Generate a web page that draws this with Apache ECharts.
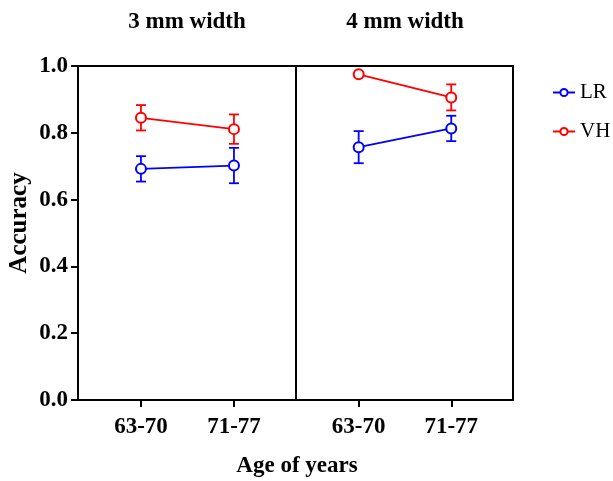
<!DOCTYPE html>
<html><head><meta charset="utf-8">
<script src="https://cdn.jsdelivr.net/npm/echarts@6/dist/echarts.min.js"></script>
<style>html,body{margin:0;padding:0;background:#fff}#c{width:613px;height:481px}</style>
</head><body><div id="c"></div>
<script>
const categories = ['63-70', '71-77'];
const panelTitles = ['3 mm width', '4 mm width'];
const lr3 = [0.692, 0.702];
const lr3Err = [0.038, 0.053];
const vh3 = [0.845, 0.811];
const vh3Err = [0.038, 0.044];
const lr4 = [0.757, 0.813];
const lr4Err = [0.048, 0.038];
const vh4 = [0.975, 0.906];
const vh4Err = [0.0, 0.039];

const FONT = '"Liberation Serif", "DejaVu Serif", serif';
const BLUE = '#0000ff', RED = '#ff0000';

const chart = echarts.init(document.getElementById('c'), null, {renderer: 'canvas'});

function pts(vals) { return vals.map((v, i) => [i, v]); }
function errPts(vals, errs) { return vals.map((v, i) => [i, v - errs[i], v + errs[i]]); }

function lineSeries(name, vals, color, idx) {
  return {
    name: name, type: 'line', xAxisIndex: idx, yAxisIndex: idx,
    data: pts(vals), symbol: 'emptyCircle', symbolSize: 10,
    lineStyle: {color: color, width: 1.8},
    itemStyle: {color: color, borderColor: color, borderWidth: 1.8},
    emphasis: {disabled: true}, z: 3
  };
}
function errSeries(name, vals, errs, color, idx) {
  return {
    name: name, type: 'custom', xAxisIndex: idx, yAxisIndex: idx,
    data: errPts(vals, errs),
    renderItem: function (params, api) {
      const lo = api.coord([api.value(0), api.value(1)]);
      const hi = api.coord([api.value(0), api.value(2)]);
      const w = 5;
      const st = {stroke: color, lineWidth: 1.8};
      return {type: 'group', children: [
        {type: 'line', shape: {x1: lo[0], y1: lo[1], x2: hi[0], y2: hi[1]}, style: st},
        {type: 'line', shape: {x1: lo[0] - w, y1: lo[1], x2: lo[0] + w, y2: lo[1]}, style: st},
        {type: 'line', shape: {x1: hi[0] - w, y1: hi[1], x2: hi[0] + w, y2: hi[1]}, style: st}
      ]};
    },
    z: 2, silent: true
  };
}

function xAxis(idx) {
  return {
    type: 'value', gridIndex: idx, min: -0.677, max: 1.667,
    axisLine: {show: true, onZero: false, lineStyle: {color: '#000', width: 2}},
    axisTick: {show: true, customValues: [0, 1], length: 7, lineStyle: {color: '#000', width: 2}},
    axisLabel: {show: true, customValues: [0, 1], margin: 16,
      formatter: v => categories[Math.round(v)],
      fontFamily: FONT, fontWeight: 'bold', fontSize: 23, color: '#000'},
    splitLine: {show: false}
  };
}
function yAxis(idx) {
  const base = {
    type: 'value', gridIndex: idx, min: 0, max: 1, interval: 0.2,
    axisLine: {show: true, onZero: false, lineStyle: {color: '#000', width: 2}},
    splitLine: {show: false}
  };
  if (idx === 0) {
    Object.assign(base, {
      axisTick: {show: true, length: 7, lineStyle: {color: '#000', width: 2}},
      axisLabel: {show: true, margin: 10, formatter: v => v.toFixed(1),
        fontFamily: FONT, fontWeight: 'bold', fontSize: 23, color: '#000'}
    });
  } else {
    Object.assign(base, {axisTick: {show: false}, axisLabel: {show: false}});
  }
  return base;
}

chart.setOption({
  animation: false,
  grid: [
    {left: 78, top: 66, width: 218, height: 334, show: true, borderColor: '#000', borderWidth: 2, backgroundColor: 'transparent'},
    {left: 296, top: 66, width: 217, height: 334, show: true, borderColor: '#000', borderWidth: 2, backgroundColor: 'transparent'}
  ],
  xAxis: [xAxis(0), xAxis(1)],
  yAxis: [yAxis(0), yAxis(1)],
  legend: {
    orient: 'vertical', left: 547, top: 77, itemGap: 18,
    itemWidth: 22, itemHeight: 9,
    data: ['LR', 'VH'],
    textStyle: {fontFamily: FONT, fontSize: 21, color: '#000'}
  },
  graphic: [
    {type: 'text', x: 187, y: 22, style: {text: panelTitles[0], font: 'bold 23px ' + FONT, fill: '#000', align: 'center', verticalAlign: 'middle'}},
    {type: 'text', x: 405, y: 22, style: {text: panelTitles[1], font: 'bold 23px ' + FONT, fill: '#000', align: 'center', verticalAlign: 'middle'}},
    {type: 'text', x: 297, y: 466, style: {text: 'Age of years', font: 'bold 23px ' + FONT, fill: '#000', align: 'center', verticalAlign: 'middle'}},
    {type: 'text', x: 20, y: 223, rotation: Math.PI / 2, style: {text: 'Accuracy', font: 'bold 25px ' + FONT, fill: '#000', align: 'center', verticalAlign: 'middle'}}
  ],
  series: [
    lineSeries('LR', lr3, BLUE, 0),
    lineSeries('VH', vh3, RED, 0),
    lineSeries('LR', lr4, BLUE, 1),
    lineSeries('VH', vh4, RED, 1),
    errSeries('LR', lr3, lr3Err, BLUE, 0),
    errSeries('VH', vh3, vh3Err, RED, 0),
    errSeries('LR', lr4, lr4Err, BLUE, 1),
    errSeries('VH', vh4, vh4Err, RED, 1)
  ]
});
</script></body></html>
